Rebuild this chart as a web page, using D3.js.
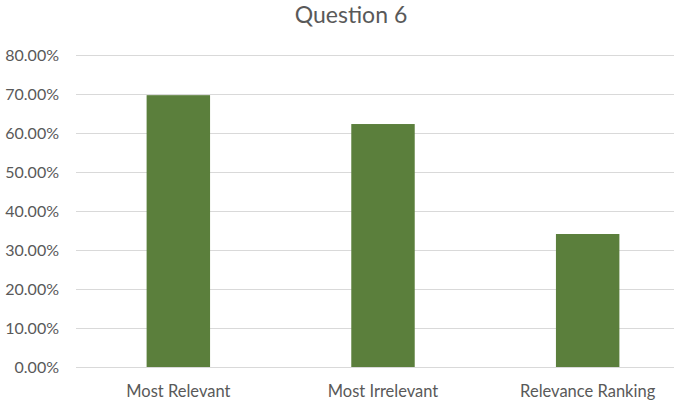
<!DOCTYPE html>
<html>
<head>
<meta charset="utf-8">
<script src="https://cdn.jsdelivr.net/npm/d3@7"></script>
<style>
  body { margin: 0; background: #fff; }
  text { font-family: Lato, "Open Sans", sans-serif; fill: #595959; }
</style>
</head>
<body>
<div id="chart-area"></div>
<script>
// Data
var categories = ["Most Relevant", "Most Irrelevant", "Relevance Ranking"];
var values = [0.697, 0.623, 0.341];
var yTicks = [0, 0.1, 0.2, 0.3, 0.4, 0.5, 0.6, 0.7, 0.8];

var width = 674, height = 406;
// chart is cropped on the right, so the plot runs past the svg edge
var margin = { left: 76, right: -16, top: 55, bottom: 39 };

var svg = d3.select("#chart-area").append("svg")
    .attr("width", width)
    .attr("height", height);

var plotW = width - margin.left - margin.right,
    plotH = height - margin.top - margin.bottom;

var g = svg.append("g")
    .attr("transform", "translate(" + margin.left + "," + margin.top + ")");

// Scales
var x = d3.scaleBand()
    .domain(categories)
    .range([0, plotW])
    .paddingInner(0.69)
    .paddingOuter(0.345);

var y = d3.scaleLinear()
    .domain([0, 0.8])
    .range([plotH, 0]);

// Title (centred on the uncropped chart width)
svg.append("text")
    .attr("x", 351)
    .attr("y", 23)
    .attr("text-anchor", "middle")
    .attr("font-size", "23px")
    .text("Question 6");

// Gridlines
g.selectAll(".grid")
    .data(yTicks)
    .enter().append("line")
    .attr("class", "grid")
    .attr("x1", 0)
    .attr("x2", plotW)
    .attr("y1", function(d){ return Math.round(y(d)) + 0.5; })
    .attr("y2", function(d){ return Math.round(y(d)) + 0.5; })
    .attr("stroke", "#d9d9d9")
    .attr("stroke-width", 1);

// Y axis labels
var yAxis = g.append("g")
    .call(d3.axisLeft(y).tickValues(yTicks).tickFormat(d3.format(".2%")).tickSize(0).tickPadding(17));
yAxis.select(".domain").remove();
yAxis.selectAll("text")
    .attr("font-size", "16px")
    .attr("font-family", null)
    .attr("fill", "#595959");

// Bars
g.selectAll(".bar")
    .data(values)
    .enter().append("rect")
    .attr("class", "bar")
    .attr("x", function(d, i){ return x(categories[i]); })
    .attr("width", x.bandwidth())
    .attr("y", function(d){ return y(d); })
    .attr("height", function(d){ return plotH - y(d); })
    .attr("fill", "#5b7f3c");

// X axis labels
var xAxis = g.append("g")
    .attr("transform", "translate(0," + plotH + ")")
    .call(d3.axisBottom(x).tickSize(0));
xAxis.select(".domain").remove();
xAxis.selectAll("text")
    .attr("y", 30)
    .attr("dy", null)
    .attr("font-size", "16.5px")
    .attr("font-family", null)
    .attr("fill", "#595959");
</script>
</body>
</html>
